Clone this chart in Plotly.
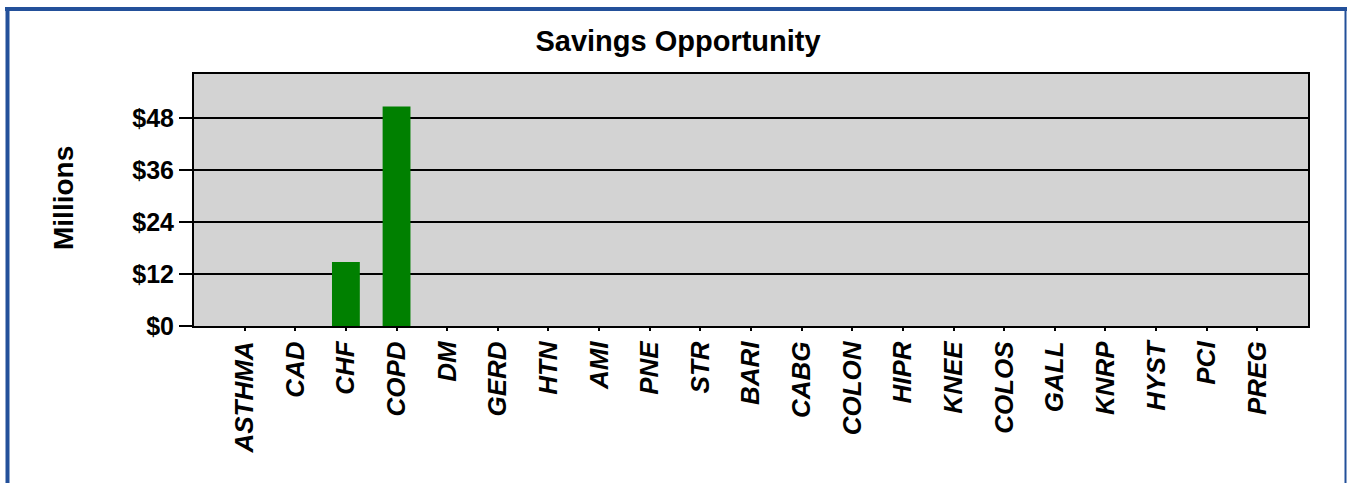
import plotly.graph_objects as go

categories = ["ASTHMA", "CAD", "CHF", "COPD", "DM", "GERD", "HTN", "AMI", "PNE", "STR",
              "BARI", "CABG", "COLON", "HIPR", "KNEE", "COLOS", "GALL", "KNRP", "HYST", "PCI", "PREG"]
savings_millions = [0, 0, 14.8, 50.7, 0, 0, 0, 0, 0, 0, 0, 0, 0, 0, 0, 0, 0, 0, 0, 0, 0]
y_tick_values = [0, 12, 24, 36, 48]
y_tick_labels = ["$0", "$12", "$24", "$36", "$48"]

W, H = 1347, 483
L, R, T, B = 194, 39, 74, 157
pw, ph = W - L - R, H - T - B

def px(x):
    return (x - L) / pw

def py(y):
    return (H - B - y) / ph

FONT = "Arial, Liberation Sans, sans-serif"

fig = go.Figure()
fig.add_trace(go.Bar(
    x=list(range(len(categories))),
    y=savings_millions,
    width=0.55,
    marker=dict(color="#008000", line=dict(width=0)),
))

fig.update_layout(
    width=W, height=H,
    margin=dict(l=L, r=R, t=T, b=B, autoexpand=False),
    paper_bgcolor="white",
    plot_bgcolor="#D3D3D3",
    showlegend=False,
    title=dict(text="<b>Savings Opportunity</b>", x=678 / W, xanchor="center",
               y=1 - 41 / H, yanchor="middle",
               font=dict(family=FONT, size=29, color="black")),
    xaxis=dict(
        tickmode="array",
        tickvals=list(range(len(categories))),
        ticktext=[f"<b><i>{c}</i></b>" for c in categories],
        range=[-1, len(categories)],
        tickangle=-90,
        ticks="outside", ticklen=3, tickwidth=1.5, tickcolor="black",
        tickfont=dict(family=FONT, size=26, color="black"),
        showline=True, linecolor="black", linewidth=2, mirror=True,
        showgrid=False, zeroline=False,
    ),
    yaxis=dict(
        tickmode="array",
        tickvals=y_tick_values,
        ticktext=[f"<b>{t}</b>" for t in y_tick_labels],
        range=[0, 58.2],
        ticks="outside", ticklen=13, tickwidth=1.5, tickcolor="black",
        tickfont=dict(family=FONT, size=25, color="black"),
        showline=True, linecolor="black", linewidth=2, mirror=True,
        showgrid=True, gridcolor="black", gridwidth=1.5,
        zeroline=False,
    ),
)

fig.add_annotation(
    text="<b>Millions</b>", textangle=-90,
    xref="paper", yref="paper", x=px(63), y=py(198),
    xanchor="center", yanchor="middle", showarrow=False,
    font=dict(family=FONT, size=28, color="black"),
)

blue = "#23509A"
# outer frame
fig.add_shape(type="line", xref="paper", yref="paper",
              x0=px(7.5), x1=px(7.5), y0=py(7), y1=py(490),
              line=dict(color=blue, width=4))
fig.add_shape(type="line", xref="paper", yref="paper",
              x0=px(5), x1=px(1347), y0=py(9), y1=py(9),
              line=dict(color=blue, width=4))
fig.add_shape(type="line", xref="paper", yref="paper",
              x0=px(1345.5), x1=px(1345.5), y0=py(7), y1=py(490),
              line=dict(color=blue, width=2))

fig.write_html("out.html",
               config={"displayModeBar": False},
               post_script="document.body.style.margin='0';document.body.style.overflow='hidden';")
